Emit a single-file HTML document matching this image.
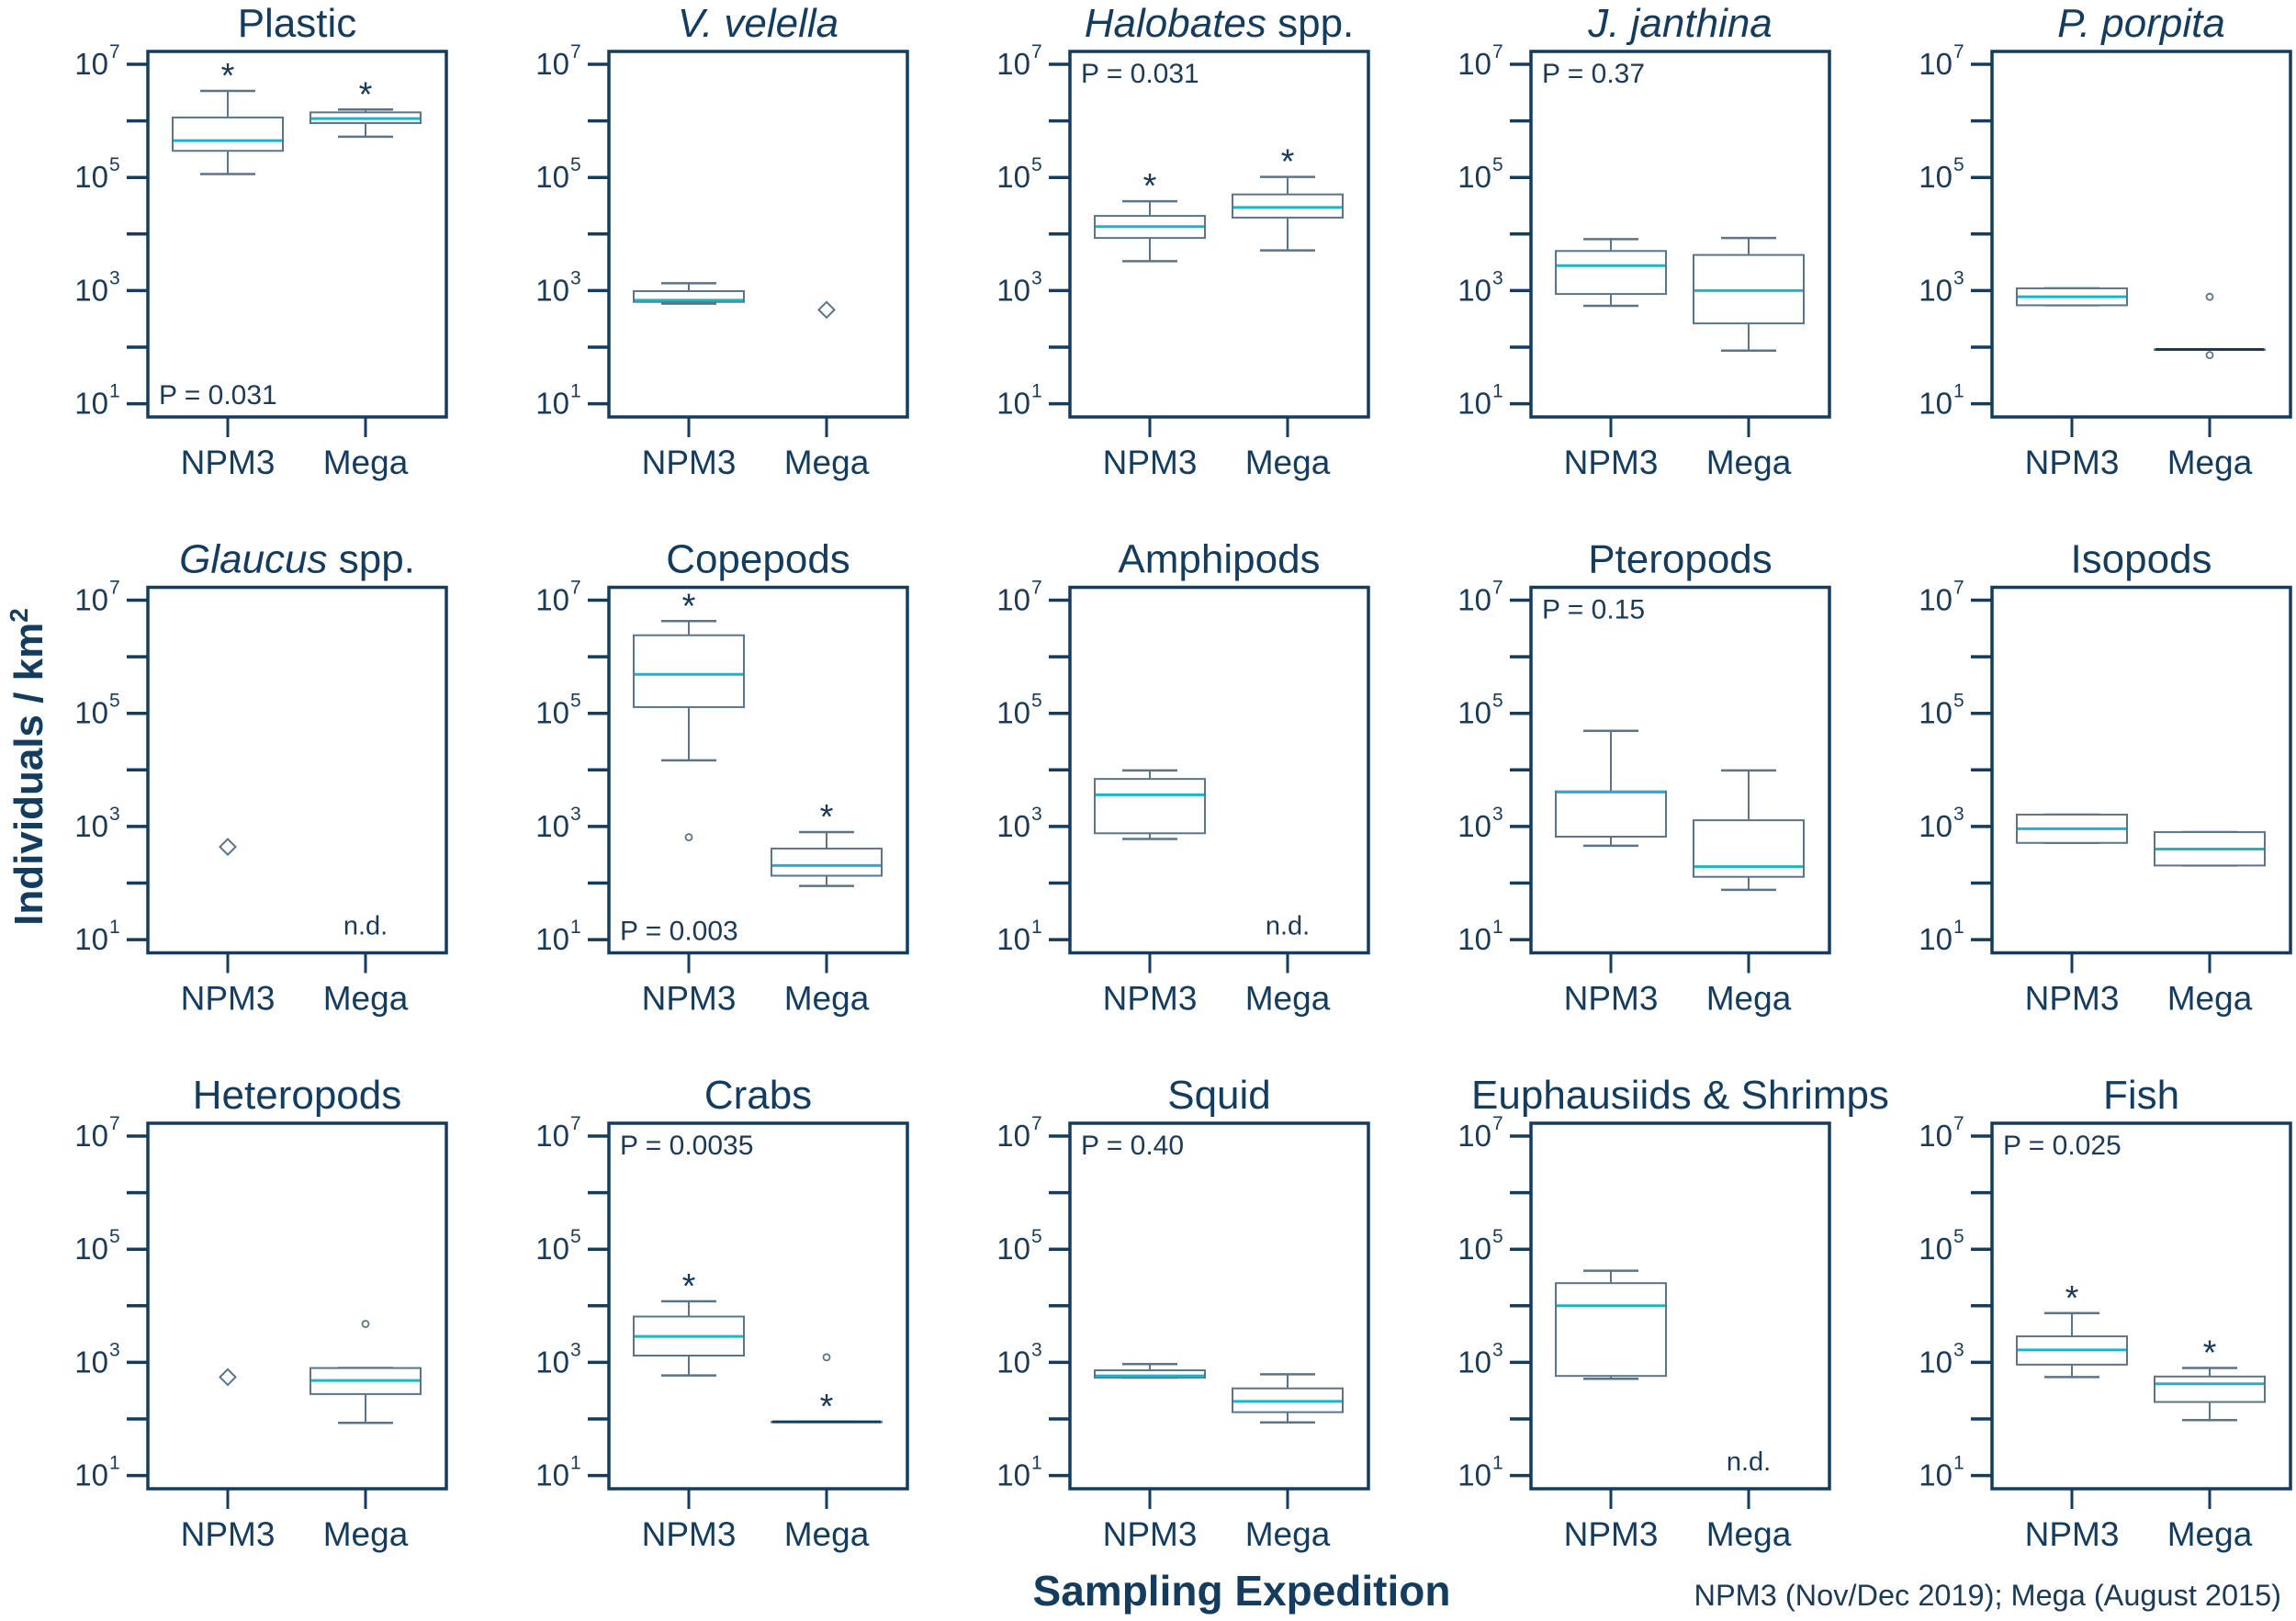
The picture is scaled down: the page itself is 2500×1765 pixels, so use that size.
<!DOCTYPE html>
<html><head><meta charset="utf-8"><style>
html,body{margin:0;padding:0;background:#fff;}
svg{display:block;font-family:"Liberation Sans",Arial,sans-serif;}
</style></head><body>
<svg id="chart" width="2500" height="1765" viewBox="0 0 2500 1765" xmlns="http://www.w3.org/2000/svg">
<text transform="translate(46,835) rotate(-90)" text-anchor="middle" font-size="44" font-weight="bold" fill="#143c5e">Individuals / km<tspan font-size="28" dy="-16">2</tspan></text>
<text x="1352" y="1748" text-anchor="middle" font-size="46" font-weight="bold" fill="#143c5e">Sampling Expedition</text>
<text x="2484" y="1748" text-anchor="end" font-size="32.5" fill="#1b3a57">NPM3 (Nov/Dec 2019); Mega (August 2015)</text>
</svg>
<script>
// Panel titles [plain prefix, italic part, plain suffix]
const titlePlain1 = ["Plastic","","","","","","Copepods","Amphipods","Pteropods","Isopods","Heteropods","Crabs","Squid","Euphausiids & Shrimps","Fish"];
const titleItalic = ["","V. velella","Halobates","J. janthina","P. porpita","Glaucus","","","","","","","","",""];
const titlePlain2 = [""," "," spp.",""," "," spp.","","","","","","","","",""];
const categories = ["NPM3","Mega"];
const tickExps = [7,6,5,4,3,2,1];
const tickLabels = ["7","","5","","3","","1"];
// log10 stats [low whisker, q1, median, q3, high whisker]; null = no box
const npm3Stats = [
 [5.06,5.47,5.65,6.06,6.53],[2.77,2.80,2.83,2.99,3.13],[3.52,3.93,4.13,4.32,4.58],[2.73,2.94,3.44,3.70,3.91],[2.74,2.74,2.89,3.04,3.04],
 null,[4.17,5.11,5.69,6.38,6.63],[2.78,2.88,3.56,3.84,3.99],[2.66,2.82,3.61,3.62,4.69],[2.71,2.71,2.96,3.21,3.21],
 null,[2.77,3.12,3.46,3.81,4.08],[2.73,2.73,2.76,2.86,2.97],[2.71,2.76,4.00,4.40,4.62],[2.74,2.96,3.22,3.46,3.87]];
const megaStats = [
 [5.72,5.96,6.04,6.15,6.20],null,[3.71,4.29,4.47,4.70,5.01],[1.94,2.42,3.00,3.63,3.93],[1.96,1.96,1.96,1.96,1.96],
 null,[1.95,2.13,2.31,2.61,2.90],null,[1.88,2.11,2.29,3.11,3.99],[2.31,2.31,2.60,2.90,2.90],
 [1.93,2.44,2.68,2.90,2.90],[1.95,1.95,1.95,1.95,1.95],[1.94,2.12,2.31,2.54,2.79],null,[1.98,2.30,2.62,2.75,2.90]];
// single observations (diamonds)
const npm3Single = [null,null,null,null,null,2.64,null,null,null,null,2.74,null,null,null,null];
const megaSingle = [null,2.66,null,null,null,null,null,null,null,null,null,null,null,null,null];
// outliers (circles)
const npm3Outliers = [[],[],[],[],[],[],[2.81],[],[],[],[],[],[],[],[]];
const megaOutliers = [[],[],[],[],[2.89,1.86],[],[],[],[],[],[3.68],[3.09],[],[],[]];
// significance stars
const npm3Star = [1,0,1,0,0,0,1,0,0,0,0,1,0,0,1];
const megaStar = [1,0,1,0,0,0,1,0,0,0,0,1,0,0,1];
const megaND = [0,0,0,0,0,1,0,1,0,0,0,0,0,1,0];
const pValues = ["P = 0.031","","P = 0.031","P = 0.37","","","P = 0.003","","P = 0.15","","","P = 0.0035","P = 0.40","","P = 0.025"];
const pAtBottom = [1,0,0,0,0,0,1,0,0,0,0,0,0,0,0];

const svg = document.getElementById('chart');
const NS = "http://www.w3.org/2000/svg";
const NAVY = "#143c5e", BOXC = "#5b7488", MED = "#1cb3cb", TXT = "#1b3a57";
const FW = 325, FH = 398;
function mk(tag, attrs, parent){const e=document.createElementNS(NS,tag);for(const k in attrs)e.setAttribute(k,attrs[k]);(parent||svg).appendChild(e);return e;}
function panelX(i){return 161 + (i%5)*502;}
function panelY(i){return 56 + Math.floor(i/5)*583.5;}
function yScale(i,v){return panelY(i) + 14 + (7 - v)*61.6;}
function xScale(i,c){return panelX(i) + (c===0?87:237);}

function drawBox(g,i,c,s,star){
  const x = xScale(i,c);
  const yl=yScale(i,s[0]), y1=yScale(i,s[1]), ym=yScale(i,s[2]), y3=yScale(i,s[3]), yh=yScale(i,s[4]);
  const w1 = mk('line',{x1:x,x2:x,y1:y3,y2:yh,stroke:BOXC,'stroke-width':2},g);
  
  
  const w2 = mk('line',{x1:x,x2:x,y1:y1,y2:yl,stroke:BOXC,'stroke-width':2},g);
  
  
  const c1 = mk('line',{x1:x-30,x2:x+30,y1:yh,y2:yh,stroke:BOXC,'stroke-width':2.5},g);
  
  
  const c2 = mk('line',{x1:x-30,x2:x+30,y1:yl,y2:yl,stroke:BOXC,'stroke-width':2.5},g);
  
  
  const r = mk('rect',{x:x-60,y:y3,width:120,height:Math.max(y1-y3,0.5),fill:'#fff',stroke:BOXC,'stroke-width':2},g);
  
  
  const m = mk('line',{x1:x-59,x2:x+59,y1:ym,y2:ym,stroke:(y1-y3<2?NAVY:MED),'stroke-width':3},g);
  
  
  if(star){
    const t = mk('text',{x:x,y:yh-4,'text-anchor':'middle','font-size':38,fill:TXT},g);
    t.textContent='*';
    
    
  }
}

for(let i=0;i<15;i++){
  const g = mk('g',{});
  
  
  const x0=panelX(i), y0=panelY(i);
  const t = mk('text',{x:x0+FW/2,y:y0-16,'text-anchor':'middle','font-size':44,fill:NAVY},g);
  
  
  if(titlePlain1[i]){const s=mk('tspan',{},t);s.textContent=titlePlain1[i];}
  if(titleItalic[i]){const s=mk('tspan',{'font-style':'italic'},t);s.textContent=titleItalic[i];}
  if(titlePlain2[i] && titlePlain2[i].trim()){const s=mk('tspan',{},t);s.textContent=titlePlain2[i];}
  const f = mk('rect',{x:x0,y:y0,width:FW,height:FH,fill:'none',stroke:NAVY,'stroke-width':3.5},g);
  
  
  tickExps.forEach((e,k)=>{
    const y=yScale(i,e);
    const l=mk('line',{x1:x0-23,x2:x0,y1:y,y2:y,stroke:NAVY,'stroke-width':3.5},g);
    
    
    if(tickLabels[k]){
      const tl=mk('text',{x:x0-43,y:y+11,'text-anchor':'end','font-size':33,fill:TXT},g);
      tl.textContent='10';
      
      
      const sp=mk('text',{x:x0-42,y:y-7,'text-anchor':'start','font-size':21,fill:TXT},g);
      sp.textContent=tickLabels[k];
      
      
    }
  });
  categories.forEach((cname,c)=>{
    const x=xScale(i,c);
    const l=mk('line',{x1:x,x2:x,y1:y0+FH,y2:y0+FH+22,stroke:NAVY,'stroke-width':3},g);
    
    
    const tl=mk('text',{x:x,y:y0+FH+62,'text-anchor':'middle','font-size':37,fill:NAVY},g);
    tl.textContent=cname;
    
    
  });
  if(npm3Stats[i]) drawBox(g,i,0,npm3Stats[i],npm3Star[i]);
  if(megaStats[i]) drawBox(g,i,1,megaStats[i],megaStar[i]);
  [[npm3Single,0],[megaSingle,1]].forEach(([arr,c])=>{
    if(arr[i]!==null){
      const x=xScale(i,c), y=yScale(i,arr[i]);
      const d=mk('polygon',{points:`${x},${y-8.5} ${x+8.5},${y} ${x},${y+8.5} ${x-8.5},${y}`,fill:'#fff',stroke:BOXC,'stroke-width':2},g);
      
      
    }
  });
  [[npm3Outliers,0],[megaOutliers,1]].forEach(([arr,c])=>{
    arr[i].forEach(v=>{
      const o=mk('circle',{cx:xScale(i,c),cy:yScale(i,v),r:3.5,fill:'#fff',stroke:BOXC,'stroke-width':1.8},g);
      
      
    });
  });
  if(megaND[i]){
    const n=mk('text',{x:xScale(i,1),y:y0+FH-20,'text-anchor':'middle','font-size':29,fill:TXT},g);
    n.textContent='n.d.';
    
    
  }
  if(pValues[i]){
    const p=mk('text',{x:x0+12,y:pAtBottom[i]?y0+FH-14:y0+34,'font-size':30,fill:TXT},g);
    p.textContent=pValues[i];
    
    
  }
}
</script>
</body></html>
